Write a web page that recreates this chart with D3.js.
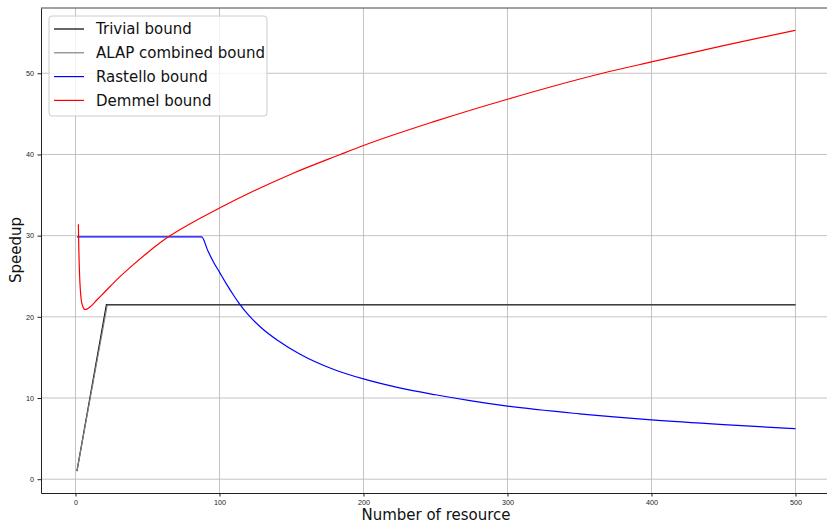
<!DOCTYPE html>
<meta charset="utf-8">
<style>
    body { margin: 0; background: #fff; }
    svg { font-family: 'DejaVu Sans', sans-serif; }
    .grid line { stroke: #bcbcbc; stroke-width: 0.9; }
    .axis text { font-size: 7.2px; fill: #222; }
    .axis path, .axis line { stroke: #222; }
</style>
<svg width="827" height="523"></svg>
<script src="https://cdnjs.cloudflare.com/ajax/libs/d3/7.8.5/d3.min.js"></script>
<script>

    // values: [number of resource, speedup]
    var trivialBound = [[1, 1], [21.5, 21.5], [500, 21.5]];
    var alapBound = [[1, 1], [22, 21.45], [500, 21.45]];
    var rastelloBound = [
        [1, 29.84], [87.6, 29.84], [92, 28.1], [96, 26.7], [100, 25.5], [105, 24.0], [110, 22.6],
        [113.5, 21.7], [121, 20.05], [130, 18.5], [140, 17.15], [156, 15.4], [179, 13.55],
        [200, 12.35], [225, 11.25], [250, 10.4], [275, 9.65], [300, 9.0], [350, 8.05],
        [400, 7.3], [450, 6.72], [500, 6.23]
    ];
    var demmelBound = [
        [2, 31.4], [2.3, 28.5], [2.6, 26.4], [3, 24.5], [3.5, 23.0], [4, 22.1], [5, 21.3],
        [6.6, 20.9], [8, 20.95], [10, 21.2], [15, 22.1], [20, 23.0], [30, 24.8], [40, 26.4],
        [50, 27.9], [63.3, 29.7], [80, 31.5], [100, 33.4], [150, 37.6], [184, 40.0],
        [200, 41.1], [250, 44.1], [300, 46.8], [366, 50.0], [400, 51.4], [450, 53.4], [500, 55.3]
    ];

    var seriesNames = ["Trivial bound", "ALAP combined bound", "Rastello bound", "Demmel bound"];
    var seriesColors = ["#000000", "#808080", "#0000ff", "#ff0000"];
    var seriesData = [trivialBound, alapBound, rastelloBound, demmelBound];
    var seriesSmooth = [false, false, true, true];

    var xTicks = [0, 100, 200, 300, 400, 500];
    var yTicks = [0, 10, 20, 30, 40, 50];

    var svg = d3.select("svg"),
        margin = {top: 8, left: 41, bottom: 30},
        height = +svg.attr("height") - margin.top - margin.bottom;

    // matplotlib style 5% padding round the data
    var x = d3.scaleLinear().domain([-23.95, 524.95]).range([margin.left, 831.4]);
    var y = d3.scaleLinear().domain([-1.7, 58.04]).range([margin.top + height, margin.top]);

    var plot = svg.append("g");

    svg.append("defs").append("clipPath").attr("id", "clip")
        .append("rect")
        .attr("x", x.range()[0]).attr("y", y.range()[1])
        .attr("width", x.range()[1] - x.range()[0])
        .attr("height", y.range()[0] - y.range()[1]);

    // grid
    plot.append("g").attr("class", "grid")
        .selectAll("line").data(xTicks).enter().append("line")
        .attr("x1", function (d) { return x(d); }).attr("x2", function (d) { return x(d); })
        .attr("y1", y.range()[0]).attr("y2", y.range()[1]);
    plot.append("g").attr("class", "grid")
        .selectAll("line").data(yTicks).enter().append("line")
        .attr("y1", function (d) { return y(d); }).attr("y2", function (d) { return y(d); })
        .attr("x1", x.range()[0]).attr("x2", x.range()[1]);

    var straight = d3.line()
        .x(function (d) { return x(d[0]); })
        .y(function (d) { return y(d[1]); });
    var smooth = d3.line()
        .x(function (d) { return x(d[0]); })
        .y(function (d) { return y(d[1]); })
        .curve(d3.curveMonotoneX);

    plot.append("g").attr("clip-path", "url(#clip)")
        .selectAll("path").data(seriesData).enter().append("path")
        .attr("d", function (d, i) { return seriesSmooth[i] ? smooth(d) : straight(d); })
        .attr("fill", "none")
        .attr("stroke", function (d, i) { return seriesColors[i]; })
        .attr("stroke-width", 1.2);

    // spines
    svg.append("line").attr("x1", x.range()[0]).attr("x2", x.range()[1])
        .attr("y1", y.range()[1]).attr("y2", y.range()[1])
        .attr("stroke", "#444").attr("stroke-width", 1);

    svg.append("g")
        .attr("class", "axis")
        .attr("transform", "translate(0," + y.range()[0] + ")")
        .call(d3.axisBottom(x).tickValues(xTicks).tickSize(3.5).tickPadding(3).tickSizeOuter(0));

    svg.append("g")
        .attr("class", "axis")
        .attr("transform", "translate(" + x.range()[0] + ",0)")
        .call(d3.axisLeft(y).tickValues(yTicks).tickSize(3.5).tickPadding(3.5).tickSizeOuter(0));

    svg.append("text")
        .attr("x", 436).attr("y", 520)
        .attr("text-anchor", "middle")
        .style("font-size", "15px").style("fill", "#111")
        .text("Number of resource");

    svg.append("text")
        .attr("transform", "translate(21," + 250 + ") rotate(-90)")
        .attr("text-anchor", "middle")
        .style("font-size", "15px").style("fill", "#111")
        .text("Speedup");

    // legend
    var legend = svg.append("g").attr("transform", "translate(49,16)");
    legend.append("rect")
        .attr("width", 218).attr("height", 100).attr("rx", 3)
        .attr("fill", "#fff").attr("fill-opacity", 0.8)
        .attr("stroke", "#ccc").attr("stroke-width", 1);
    var entry = legend.selectAll(".entry").data(seriesNames).enter().append("g")
        .attr("transform", function (d, i) { return "translate(0," + (13 + i * 23.8) + ")"; });
    entry.append("line")
        .attr("x1", 5).attr("x2", 35)
        .attr("stroke", function (d, i) { return seriesColors[i]; })
        .attr("stroke-width", 1.2);
    entry.append("text")
        .attr("x", 47).attr("dy", "0.35em")
        .style("font-size", "15px").style("fill", "#111")
        .text(function (d) { return d; });

</script>
